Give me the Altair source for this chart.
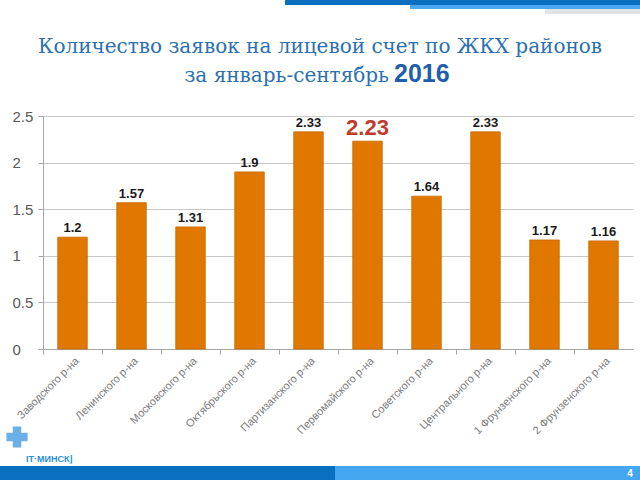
import altair as alt
import pandas as pd

categories = ["Заводского р-на", "Ленинского р-на", "Московского р-на",
              "Октябрьского р-на", "Партизанского р-на", "Первомайского р-на",
              "Советского р-на", "Центрального р-на", "1 Фрунзенского р-на",
              "2 Фрунзенского р-на"]
values = [1.2, 1.57, 1.31, 1.9, 2.33, 2.23, 1.64, 2.33, 1.17, 1.16]
highlight = "Первомайского р-на"
y_ticks = [0, 0.5, 1, 1.5, 2, 2.5]

title1 = "Количество заявок на лицевой счет по ЖКХ районов"
title2a = "за январь-сентябрь"
title2b = "2016"

df = pd.DataFrame({"cat": categories, "val": values})
one = pd.DataFrame({"a": [0]})

W, H = 590, 233
L, T = 43, 116
SERIF = "DejaVu Serif"

xenc = alt.X("cat:N", sort=categories,
             scale=alt.Scale(paddingInner=0, paddingOuter=0),
             axis=alt.Axis(title=None, labelAngle=-45, labelAlign="right",
                           labelBaseline="middle", labelFontSize=11,
                           labelColor="#7a7a7a", labelFont="Liberation Sans",
                           bandPosition=0, labelOffset=5,
                           labelPadding=5, tickSize=5, tickColor="#a6a6a6",
                           domainColor="#a6a6a6", grid=False, labelLimit=200))
yenc = alt.Y("val:Q", scale=alt.Scale(domain=[0, 2.5], nice=False),
             axis=alt.Axis(title=None, values=y_ticks, format="~g",
                           labelAlign="left", labelPadding=26, tickSize=5,
                           labelFontSize=15, labelColor="#595959",
                           labelFont="Liberation Sans", tickColor="#a6a6a6",
                           domainColor="#a6a6a6", gridColor="#c8c8c8"))

base = alt.Chart(df)
bars = base.mark_bar(width=alt.RelativeBandSize(0.5), color="#e07800",
                     stroke="#c86a00", strokeWidth=0.8).encode(x=xenc, y=yenc)

labels = base.transform_filter(alt.datum.cat != highlight).mark_text(
    dy=-9, fontSize=13, fontWeight="bold", font="Liberation Sans", color="#1a1a1a"
).encode(x=alt.X("cat:N", sort=categories), y="val:Q", text=alt.Text("val:Q"))

hl = base.transform_filter(alt.datum.cat == highlight).mark_text(
    dy=-13, fontSize=22, fontWeight="bold", font="Liberation Sans", color="#c0392b"
).encode(x=alt.X("cat:N", sort=categories), y="val:Q", text=alt.Text("val:Q"))

deco = alt.Chart(one)
t1 = deco.mark_text(font=SERIF, fontSize=20, color="#2b70b0",
                    align="center", baseline="alphabetic").encode(
    x=alt.value(320 - L), y=alt.value(53 - T), text=alt.value(title1))
t2a = deco.mark_text(font=SERIF, fontSize=20, color="#2b70b0",
                     align="right", baseline="alphabetic").encode(
    x=alt.value(389 - L), y=alt.value(82 - T), text=alt.value(title2a))
t2b = deco.mark_text(font="Liberation Sans", fontSize=25, fontWeight="bold",
                     color="#1f5ea8", align="left", baseline="alphabetic").encode(
    x=alt.value(394 - L), y=alt.value(82 - T), text=alt.value(title2b))

top1 = deco.mark_rect(color="#0b6fc0").encode(
    x=alt.value(285 - L), x2=alt.value(640 - L), y=alt.value(0 - T), y2=alt.value(5 - T))
top2 = deco.mark_rect(color="#4aa8f0").encode(
    x=alt.value(410 - L), x2=alt.value(640 - L), y=alt.value(5 - T), y2=alt.value(9 - T))
top3 = deco.mark_rect(color="#e3e3e3").encode(
    x=alt.value(545 - L), x2=alt.value(640 - L), y=alt.value(9 - T), y2=alt.value(14 - T))
bot1 = deco.mark_rect(color="#0b6fc0").encode(
    x=alt.value(0 - L), x2=alt.value(335 - L), y=alt.value(466 - T), y2=alt.value(480 - T))
bot2 = deco.mark_rect(color="#45a6f0").encode(
    x=alt.value(335 - L), x2=alt.value(640 - L), y=alt.value(466 - T), y2=alt.value(480 - T))
page = deco.mark_text(font="Liberation Sans", fontSize=10, color="#ffffff",
                      fontWeight="bold").encode(
    x=alt.value(630 - L), y=alt.value(474 - T), text=alt.value("4"))
logo_mark = deco.mark_point(shape="cross", filled=True, color="#2b8fd8",
                            size=450).encode(
    x=alt.value(17 - L), y=alt.value(437 - T))
logo_txt = deco.mark_text(font="Liberation Sans", fontSize=9, fontWeight="bold",
                          color="#2b8fd8", align="left").encode(
    x=alt.value(26 - L), y=alt.value(459 - T), text=alt.value("IT·МИНСК⌋"))

chart = alt.layer(
    top1, top2, top3, bot1, bot2, page, logo_mark, logo_txt,
    bars, labels, hl, t1, t2a, t2b
).properties(
    width=W, height=H,
    autosize=alt.AutoSizeParams(type="none"),
    padding={"left": L, "top": T, "right": 640 - L - W, "bottom": 480 - T - H},
    background="white"
).configure_view(stroke=None)

chart.save("out.html", embed_options={"renderer": "svg", "actions": False})
